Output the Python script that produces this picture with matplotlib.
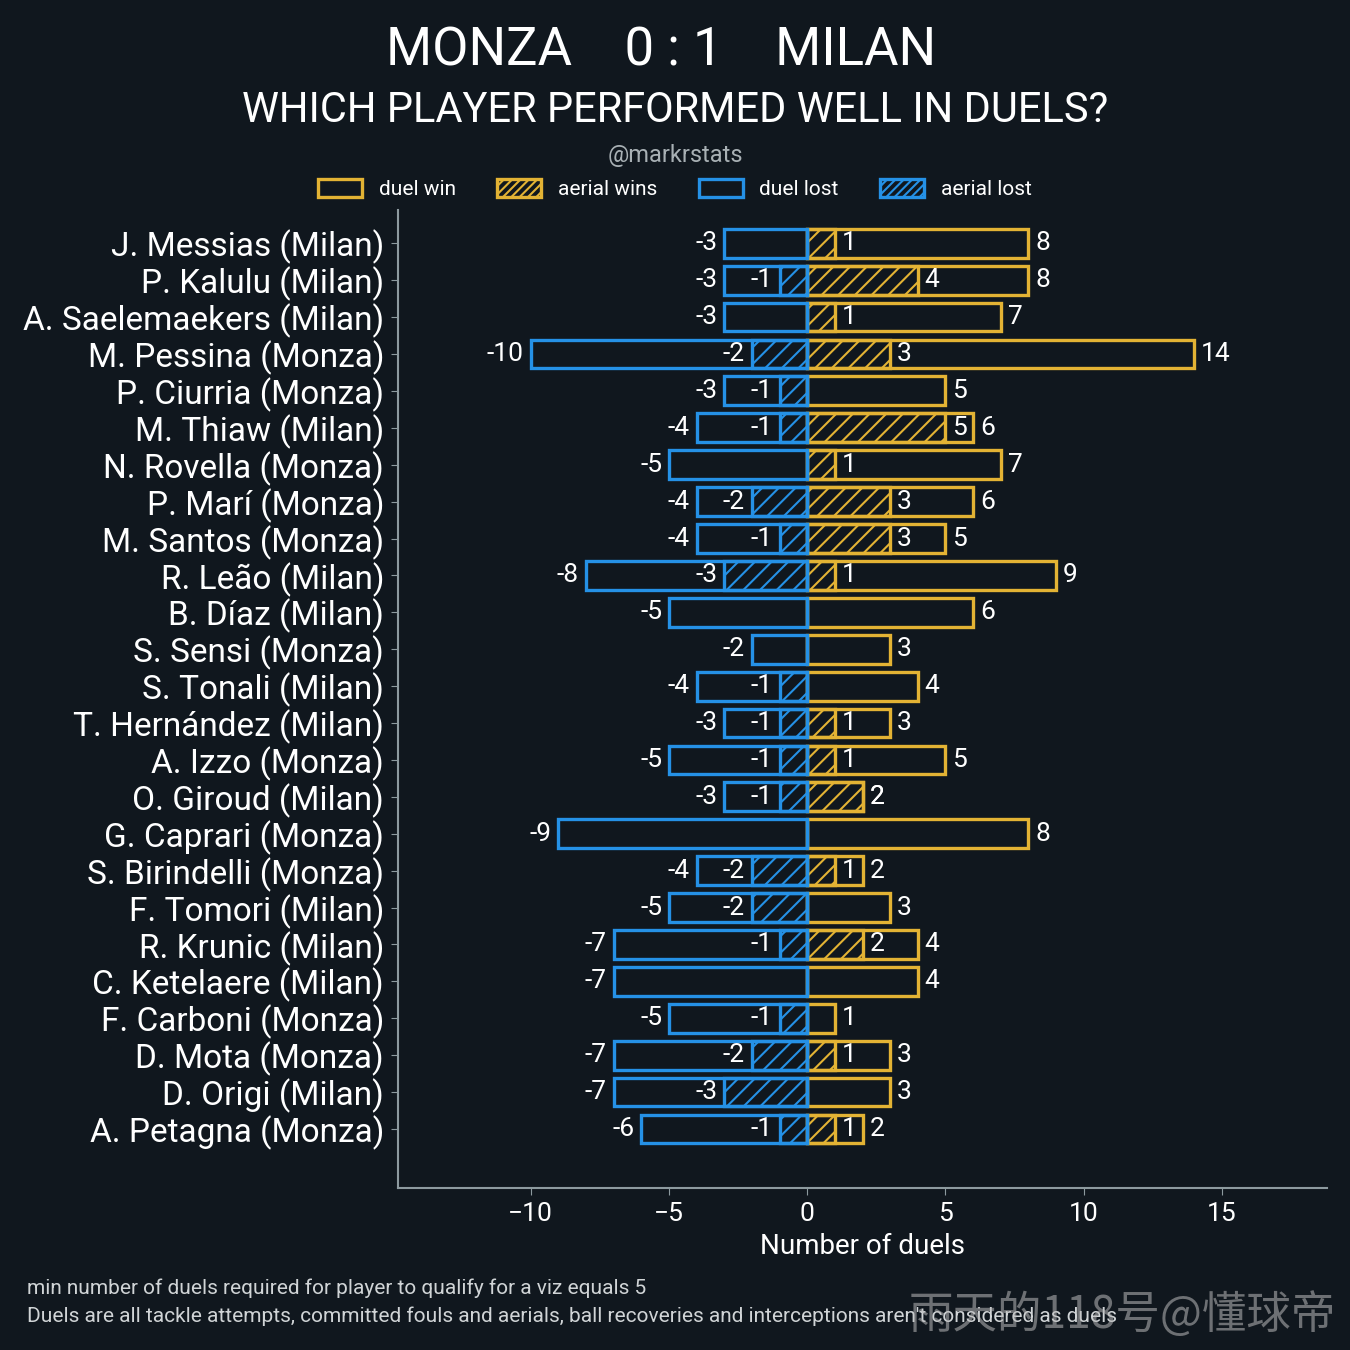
import matplotlib.pyplot as plt
from matplotlib.patches import Patch

plt.rcParams['font.family'] = ['Roboto', 'DejaVu Sans']
plt.rcParams['hatch.linewidth'] = 1.5

# data, top row first
players = ['J. Messias (Milan)', 'P. Kalulu (Milan)', 'A. Saelemaekers (Milan)',
           'M. Pessina (Monza)', 'P. Ciurria (Monza)', 'M. Thiaw (Milan)',
           'N. Rovella (Monza)', 'P. Marí (Monza)', 'M. Santos (Monza)',
           'R. Leão (Milan)', 'B. Díaz (Milan)', 'S. Sensi (Monza)',
           'S. Tonali (Milan)', 'T. Hernández (Milan)', 'A. Izzo (Monza)',
           'O. Giroud (Milan)', 'G. Caprari (Monza)', 'S. Birindelli (Monza)',
           'F. Tomori (Milan)', 'R. Krunic (Milan)', 'C. Ketelaere (Milan)',
           'F. Carboni (Monza)', 'D. Mota (Monza)', 'D. Origi (Milan)',
           'A. Petagna (Monza)']
duel_win = [8, 8, 7, 14, 5, 6, 7, 6, 5, 9, 6, 3, 4, 3, 5, 2, 8, 2, 3, 4, 4, 1, 3, 3, 2]
aerial_win = [1, 4, 1, 3, 0, 5, 1, 3, 3, 1, 0, 0, 0, 1, 1, 2, 0, 1, 0, 2, 0, 0, 1, 0, 1]
duel_lost = [-3, -3, -3, -10, -3, -4, -5, -4, -4, -8, -5, -2, -4, -3, -5, -3, -9, -4, -5, -7, -7, -5, -7, -7, -6]
aerial_lost = [0, -1, 0, -2, -1, -1, 0, -2, -1, -3, 0, 0, -1, -1, -1, -1, 0, -2, -2, -1, 0, -1, -2, -3, -1]

bg = '#10171e'
gold = '#e3b334'
blue = '#2591e6'
grey = '#8d9a9f'

fig = plt.figure(figsize=(13.5, 13.5), dpi=100, facecolor=bg)
ax = fig.add_axes([0.2948, 0.12, 0.6882, 0.7244], facecolor=bg)

y = list(range(len(players)))
h = 0.78
lw = 2.4

def lab(vals):
    return [str(v) if v != 0 else '' for v in vals]

b1 = ax.barh(y, duel_win, height=h, facecolor='none', edgecolor=gold, linewidth=lw)
b2 = ax.barh(y, aerial_win, height=h, facecolor='none', edgecolor=gold, linewidth=lw, hatch='//')
b3 = ax.barh(y, duel_lost, height=h, facecolor='none', edgecolor=blue, linewidth=lw)
b4 = ax.barh(y, aerial_lost, height=h, facecolor='none', edgecolor=blue, linewidth=lw, hatch='//')

for b, v in [(b1, duel_win), (b2, aerial_win), (b3, duel_lost), (b4, aerial_lost)]:
    ax.bar_label(b, labels=lab(v), padding=5, color='white', fontsize=19)

ax.set_yticks(y)
ax.set_yticklabels(players, fontsize=24, color='white')
ax.set_ylim(25.6, -0.9)
ax.set_xlim(-14.8, 18.8)
ax.set_xticks([-10, -5, 0, 5, 10, 15])
ax.tick_params(axis='x', colors=grey, labelcolor='white', labelsize=19, length=5, pad=5)
ax.tick_params(axis='y', colors=grey, labelcolor='white', length=5, pad=5)
ax.set_xlabel('Number of duels', color='white', fontsize=20, labelpad=5)

for s in ['top', 'right']:
    ax.spines[s].set_visible(False)
for s in ['left', 'bottom']:
    ax.spines[s].set_color(grey)
    ax.spines[s].set_linewidth(1.5)

fig.text(0.49, 0.962, 'MONZA    0 : 1    MILAN', color='white', fontsize=38, ha='center', va='center')
fig.text(0.5, 0.918, 'WHICH PLAYER PERFORMED WELL IN DUELS?', color='white', fontsize=30, ha='center', va='center')
fig.text(0.5, 0.885, '@markrstats', color='#a8b0b4', fontsize=17, ha='center', va='center')

handles = [Patch(facecolor='none', edgecolor=gold, linewidth=lw, label='duel win'),
           Patch(facecolor='none', edgecolor=gold, linewidth=lw, hatch='////', label='aerial wins'),
           Patch(facecolor='none', edgecolor=blue, linewidth=lw, label='duel lost'),
           Patch(facecolor='none', edgecolor=blue, linewidth=lw, hatch='////', label='aerial lost')]
leg = fig.legend(handles=handles, loc='center', bbox_to_anchor=(0.5, 0.86), ncol=4, frameon=False,
                 fontsize=15, labelcolor='white', handlelength=2.1, handleheight=1.0,
                 handletextpad=0.8, columnspacing=2.0)

fig.text(0.02, 0.046, 'min number of duels required for player to qualify for a viz equals 5',
         color='#d0d4d6', fontsize=15, va='center')
fig.text(0.02, 0.025, "Duels are all tackle attempts, committed fouls and aerials, ball recoveries and interceptions aren't considered as duels",
         color='#d0d4d6', fontsize=15, va='center')
fig.text(0.99, 0.026, '雨天的118号@懂球帝', color='#bbbbbb', alpha=0.55, fontsize=32,
         ha='right', va='center', family=['Noto Sans CJK SC', 'DejaVu Sans'])

fig.savefig('out.png', dpi=100, facecolor=bg)
